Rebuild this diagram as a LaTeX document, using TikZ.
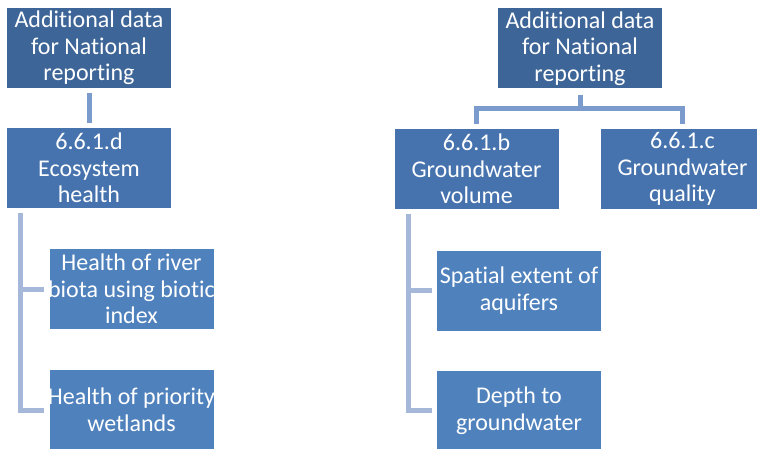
\documentclass[tikz,border=0pt]{standalone}
\usepackage{fontspec}
\setmainfont{Carlito}[Ligatures=CommonOff]
\definecolor{topblue}{HTML}{3D6597}
\definecolor{midblue}{HTML}{4673AE}
\definecolor{lowblue}{HTML}{4F81BD}
\definecolor{linkdark}{HTML}{7B9BCD}
\definecolor{linklight}{HTML}{A6B8D9}
\newcommand{\overrun}[1]{\makebox[0pt]{#1}}
\begin{document}
\begin{tikzpicture}[x=1pt, y=-1pt,
  box/.style = {minimum width=164pt, minimum height=80pt, inner sep=0pt, align=center,
    text=white, font=\fontsize{24}{26.5}\selectfont},
  top/.style = {box, fill=topblue},
  mid/.style = {box, fill=midblue},
  low/.style = {box, fill=lowblue},
  link/.style = {line width=5pt, draw=linkdark},
  side/.style = {line width=5pt, draw=linklight}]
\clip (0,0) rectangle (757,449);

% left tree
\node[top] (1) at (89,48) {Additional data\\for National\\reporting};
\node[mid] (2) at (89,168) {6.6.1.d\\Ecosystem\\health};
\node[low] (3) at (131.5,289) {Health of river\\\overrun{biota using biotic}\\index};
\node[low] (4) at (131.5,410) {\overrun{Health of priority}\\wetlands};

% right tree
\node[top] (5) at (580,48.5) {Additional data\\for National\\reporting};
\node[mid] (6) at (476.5,169) {6.6.1.b\\Groundwater\\volume};
\node[mid] (7) at (682.5,169) {6.6.1.c\\Groundwater\\quality};
\node[low] (8) at (519,290.5) {Spatial extent of\\aquifers};
\node[low] (9) at (519,410.5) {Depth to\\groundwater};

\draw[link, shorten <=5pt, shorten >=5pt] (1) -- (2);
\draw[side] ([xshift=14pt,yshift=-5pt]2.south west) |- ([xshift=-5pt]3.west);
\draw[side] ([xshift=14pt,yshift=-5pt]2.south west) |- ([xshift=-5pt]4.west);

\draw[link] ([yshift=-6pt]5.south) -- ++(0,14) -| ([yshift=5pt]6.north);
\draw[link] ([yshift=-6pt]5.south) -- ++(0,14) -| ([yshift=5pt]7.north);
\draw[side] ([xshift=14pt,yshift=-5pt]6.south west) |- ([xshift=-5pt]8.west);
\draw[side] ([xshift=14pt,yshift=-5pt]6.south west) |- ([xshift=-5pt]9.west);
\end{tikzpicture}
\end{document}
